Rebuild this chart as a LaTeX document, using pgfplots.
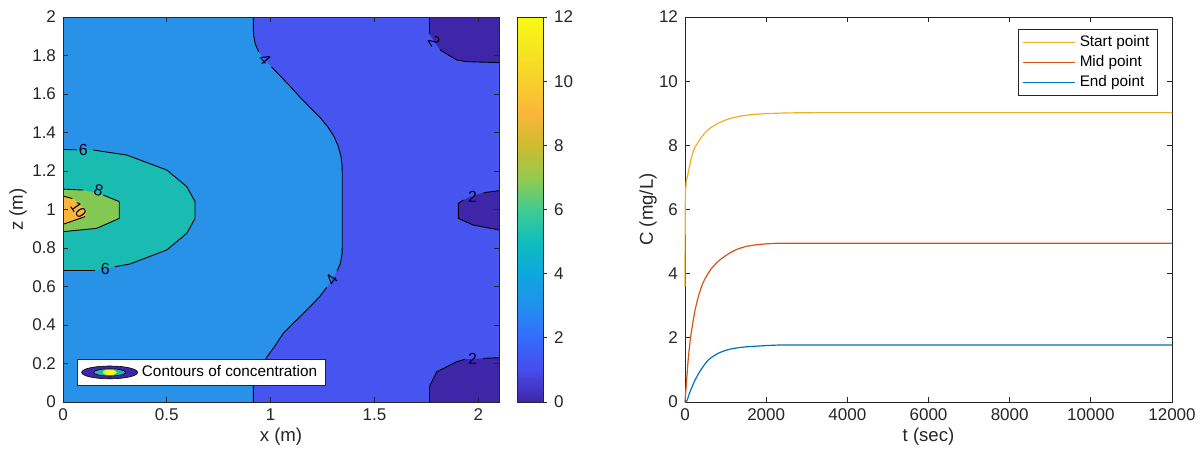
\documentclass[border=0pt]{standalone}
\usepackage{fontspec}
\setmainfont{Liberation Sans}
\usepackage{pgfplots}
\pgfplotsset{compat=1.18}

\definecolor{axgray}{RGB}{38,38,38}
\definecolor{pc0}{RGB}{62,38,168}
\definecolor{pc2}{RGB}{70,84,240}
\definecolor{pc4}{RGB}{40,146,232}
\definecolor{pc6}{RGB}{26,188,178}
\definecolor{pc8}{RGB}{132,200,84}
\definecolor{pc10}{RGB}{250,182,58}
\definecolor{pc12}{RGB}{249,251,20}
\definecolor{myellow}{RGB}{237,177,32}
\definecolor{morange}{RGB}{217,83,25}
\definecolor{mblue}{RGB}{0,114,189}

\pgfplotsset{
  mstyle/.style={
    scale only axis,
    axis line style={draw=axgray, line width=0.5pt},
    tick style={draw=axgray, line width=0.5pt},
    major tick length=2.5pt,
    tick label style={font=\fontsize{8.5}{10}\selectfont, text=axgray},
    label style={font=\fontsize{9.3}{11}\selectfont, text=axgray},
    /pgf/number format/assume math mode=true,
    /pgf/number format/1000 sep={},
    scaled ticks=false,
  },
  cline/.style={black, line width=0.45pt, forget plot},
}
\tikzset{clab/.style={font=\fontsize{8}{9}\selectfont, text=black!85!blue, inner sep=0pt}}

\begin{document}
\begin{tikzpicture}
% ---- left: contours of concentration ----
\begin{axis}[mstyle,
  at={(31.5pt,25pt)}, anchor=south west,
  width=218pt, height=192.5pt,
  xmin=0, xmax=2.1, ymin=0, ymax=2,
  xtick={0,0.5,1,1.5,2},
  ytick={0,0.2,0.4,0.6,0.8,1,1.2,1.4,1.6,1.8,2},
  xlabel={x (m)}, ylabel={z (m)},
  xlabel style={at={(axis description cs:0.5,-0.091)}, anchor=center},
  ylabel style={at={(axis description cs:-0.103,0.5)}, anchor=center},
  axis on top,
  point meta min=0, point meta max=12,
  colormap={parula}{rgb255=(62,38,168) rgb255=(71,76,236) rgb255=(54,107,253)
    rgb255=(31,145,237) rgb255=(13,168,222) rgb255=(16,189,189) rgb255=(64,204,145)
    rgb255=(150,201,77) rgb255=(205,188,48) rgb255=(250,182,58) rgb255=(247,208,44)
    rgb255=(245,230,32) rgb255=(249,251,20)},
  colorbar,
  colorbar style={mstyle,
    at={(parent axis.north east)}, anchor=north west, xshift=0.5pt,
    width=13pt, height=192.5pt,
    ytick={0,2,4,6,8,10,12},
    ytick pos=right, yticklabel pos=right,
    tick align=outside, major tick length=2pt},
  legend style={at={(0.032,0.042)}, anchor=south west,
    font=\fontsize{7.65}{9}\selectfont, draw=axgray, fill=white,
    inner xsep=2pt, inner ysep=1pt},
]
% 4-6 background
\addplot[fill=pc4, draw=none, forget plot] coordinates {(0,0)(2.1,0)(2.1,2)(0,2)} -- cycle;
% 2-4 region right of the 4 contour
\addplot[fill=pc2, draw=none, forget plot] coordinates {
  (0.917,2)(0.917,1.93)(0.919,1.90)(0.926,1.86)(0.942,1.82)(0.97,1.78)(1.005,1.74)
  (1.045,1.695)(1.09,1.645)(1.14,1.585)(1.19,1.53)(1.238,1.478)(1.275,1.43)(1.305,1.38)
  (1.325,1.33)(1.338,1.28)(1.344,1.23)(1.345,1.19)
  (1.345,0.81)(1.344,0.77)(1.336,0.72)(1.32,0.68)(1.298,0.64)(1.27,0.595)(1.238,0.55)
  (1.19,0.495)(1.142,0.443)(1.10,0.40)(1.061,0.357)(1.02,0.29)(0.981,0.232)(0.95,0.17)
  (0.93,0.135)(0.919,0.11)(0.917,0.08)(0.917,0)
  (2.1,0)(2.1,2)} -- cycle;
% 0-2 regions
\addplot[fill=pc0, draw=none, forget plot] coordinates {
  (1.765,2)(1.765,1.914)(1.79,1.87)(1.816,1.829)(1.896,1.777)(1.944,1.768)(2.1,1.763)(2.1,2)} -- cycle;
\addplot[fill=pc0, draw=none, forget plot] coordinates {
  (2.1,1.098)(2.025,1.087)(1.97,1.07)(1.928,1.049)(1.904,1.032)(1.904,0.954)
  (1.976,0.919)(2.1,0.894)} -- cycle;
\addplot[fill=pc0, draw=none, forget plot] coordinates {
  (1.765,0)(1.765,0.080)(1.800,0.157)(1.896,0.209)(1.936,0.222)(2.025,0.227)(2.1,0.230)(2.1,0)} -- cycle;
% 6-8
\addplot[fill=pc6, draw=none, forget plot] coordinates {
  (0,1.312)(0.066,1.310)(0.146,1.309)(0.307,1.283)(0.5,1.205)(0.596,1.119)
  (0.636,1.041)(0.636,0.954)(0.596,0.876)(0.5,0.790)(0.323,0.717)(0.250,0.703)
  (0.154,0.682)(0,0.682)} -- cycle;
% 8-10
\addplot[fill=pc8, draw=none, forget plot] coordinates {
  (0,1.106)(0.098,1.101)(0.194,1.075)(0.271,1.041)(0.271,0.954)(0.162,0.902)(0,0.885)} -- cycle;
% 10-12
\addplot[fill=pc10, draw=none, forget plot] coordinates {
  (0,1.070)(0.05,1.056)(0.115,0.99)(0.106,0.963)(0,0.923)} -- cycle;

% contour lines
\addplot[cline] coordinates {(0.917,2)(0.917,1.93)(0.919,1.90)(0.926,1.86)(0.942,1.82)};
\addplot[cline] coordinates {(1.005,1.74)(1.045,1.695)(1.09,1.645)(1.14,1.585)(1.19,1.53)
  (1.238,1.478)(1.275,1.43)(1.305,1.38)(1.325,1.33)(1.338,1.28)(1.344,1.23)(1.345,1.19)
  (1.345,0.81)(1.344,0.77)(1.336,0.72)(1.32,0.68)};
\addplot[cline] coordinates {(1.27,0.595)(1.238,0.55)(1.19,0.495)(1.142,0.443)(1.10,0.40)
  (1.061,0.357)(1.02,0.29)(0.981,0.232)(0.95,0.17)(0.93,0.135)(0.919,0.11)(0.917,0.08)(0.917,0)};
\addplot[cline] coordinates {(0,1.312)(0.066,1.310)};
\addplot[cline] coordinates {(0.146,1.309)(0.307,1.283)(0.5,1.205)(0.596,1.119)(0.636,1.041)
  (0.636,0.954)(0.596,0.876)(0.5,0.790)(0.323,0.717)(0.250,0.703)};
\addplot[cline] coordinates {(0.154,0.682)(0,0.682)};
\addplot[cline] coordinates {(0,1.106)(0.098,1.101)};
\addplot[cline] coordinates {(0.194,1.075)(0.271,1.041)(0.271,0.954)(0.162,0.902)(0,0.885)};
\addplot[cline] coordinates {(0,1.070)(0.045,1.057)};
\addplot[cline] coordinates {(0,0.923)(0.106,0.963)};
\addplot[cline] coordinates {(1.765,2)(1.765,1.914)};
\addplot[cline] coordinates {(1.816,1.829)(1.896,1.777)(1.944,1.768)(2.1,1.763)};
\addplot[cline] coordinates {(2.1,1.098)(2.025,1.087)};
\addplot[cline] coordinates {(1.928,1.049)(1.904,1.032)(1.904,0.954)(1.976,0.919)(2.1,0.894)};
\addplot[cline] coordinates {(1.765,0)(1.765,0.080)(1.800,0.157)(1.896,0.209)(1.936,0.222)};
\addplot[cline] coordinates {(2.025,0.227)(2.1,0.230)};

% contour labels
\node[clab] at (axis cs:0.098,1.308) {6};
\node[clab] at (axis cs:0.204,0.689) {6};
\node[clab, rotate=-15] at (axis cs:0.172,1.102) {8};
\node[clab, rotate=-55, font=\fontsize{7.4}{9}\selectfont] at (axis cs:0.075,0.998) {10};
\node[clab, rotate=-50] at (axis cs:0.973,1.779) {4};
\node[clab, rotate=55] at (axis cs:1.294,0.636) {4};
\node[clab, rotate=-57] at (axis cs:1.788,1.872) {2};
\node[clab] at (axis cs:1.973,1.065) {2};
\node[clab] at (axis cs:1.973,0.222) {2};

\addlegendimage{legend image code/.code={
  \draw[black, line width=0.3pt, fill=pc0] (14pt,0pt) ellipse [x radius=14pt, y radius=3.2pt];
  \draw[black, line width=0.3pt, fill=pc6] (14pt,0pt) ellipse [x radius=8pt, y radius=1.8pt];
  \fill[pc12] (14pt,0pt) ellipse [x radius=3.3pt, y radius=1.1pt];
}}
\addlegendentry{Contours of concentration}
\end{axis}

% ---- right: concentration vs time ----
\begin{axis}[mstyle,
  at={(342.5pt,25pt)}, anchor=south west,
  width=243.5pt, height=192.5pt,
  xmin=0, xmax=12000, ymin=0, ymax=12,
  xtick={0,2000,4000,6000,8000,10000,12000},
  ytick={0,2,4,6,8,10,12},
  xlabel={t (sec)}, ylabel={C (mg/L)},
  xlabel style={at={(axis description cs:0.5,-0.091)}, anchor=center},
  ylabel style={at={(axis description cs:-0.076,0.5)}, anchor=center},
  set layers,
  legend style={at={(0.971,0.969)}, anchor=north east,
    font=\fontsize{7.65}{9}\selectfont, draw=axgray, fill=white,
    inner xsep=2pt, inner ysep=1pt, row sep=-1pt},
  legend cell align=left,
]
\addplot[myellow, line width=0.6pt, on layer=axis foreground,
  legend image code/.code={\draw[myellow, line width=0.7pt] (0pt,0pt) -- (26pt,0pt);}] coordinates {
  (0,3.6)(5,6.0)(15,6.6)(30,6.88)(60,7.03)(100,7.28)(150,7.58)(200,7.8)(250,7.95)
  (330,8.11)(400,8.25)(500,8.4)(600,8.52)(700,8.6)(821,8.69)(1000,8.79)(1150,8.85)
  (1400,8.92)(1650,8.96)(2000,8.99)(2500,9.01)(3200,9.02)(12000,9.02)};
\addlegendentry{Start point}
\addplot[morange, line width=0.6pt, on layer=axis foreground,
  legend image code/.code={\draw[morange, line width=0.7pt] (0pt,0pt) -- (26pt,0pt);}] coordinates {
  (0,0)(10,0.2)(25,0.42)(50,0.85)(75,1.27)(100,1.6)(125,1.88)(150,2.12)(200,2.53)
  (250,2.88)(300,3.15)(350,3.38)(400,3.57)(450,3.73)(500,3.86)(575,4.02)(650,4.16)
  (750,4.3)(850,4.42)(1000,4.56)(1150,4.68)(1300,4.77)(1500,4.85)(1750,4.9)
  (2000,4.93)(2300,4.95)(12000,4.95)};
\addlegendentry{Mid point}
\addplot[mblue, line width=0.6pt, on layer=axis foreground,
  legend image code/.code={\draw[mblue, line width=0.7pt] (0pt,0pt) -- (26pt,0pt);}] coordinates {
  (0,0)(30,0)(60,0.08)(100,0.24)(150,0.4)(200,0.55)(250,0.69)(300,0.81)(350,0.92)
  (400,1.02)(450,1.11)(500,1.2)(575,1.31)(650,1.39)(750,1.47)(850,1.54)(1000,1.61)
  (1150,1.66)(1300,1.69)(1500,1.72)(1750,1.74)(2000,1.76)(2400,1.78)(12000,1.78)};
\addlegendentry{End point}
\end{axis}
\pgfresetboundingbox
\path[use as bounding box] (0,0) rectangle (601.5pt,226pt);
\end{tikzpicture}
\end{document}
